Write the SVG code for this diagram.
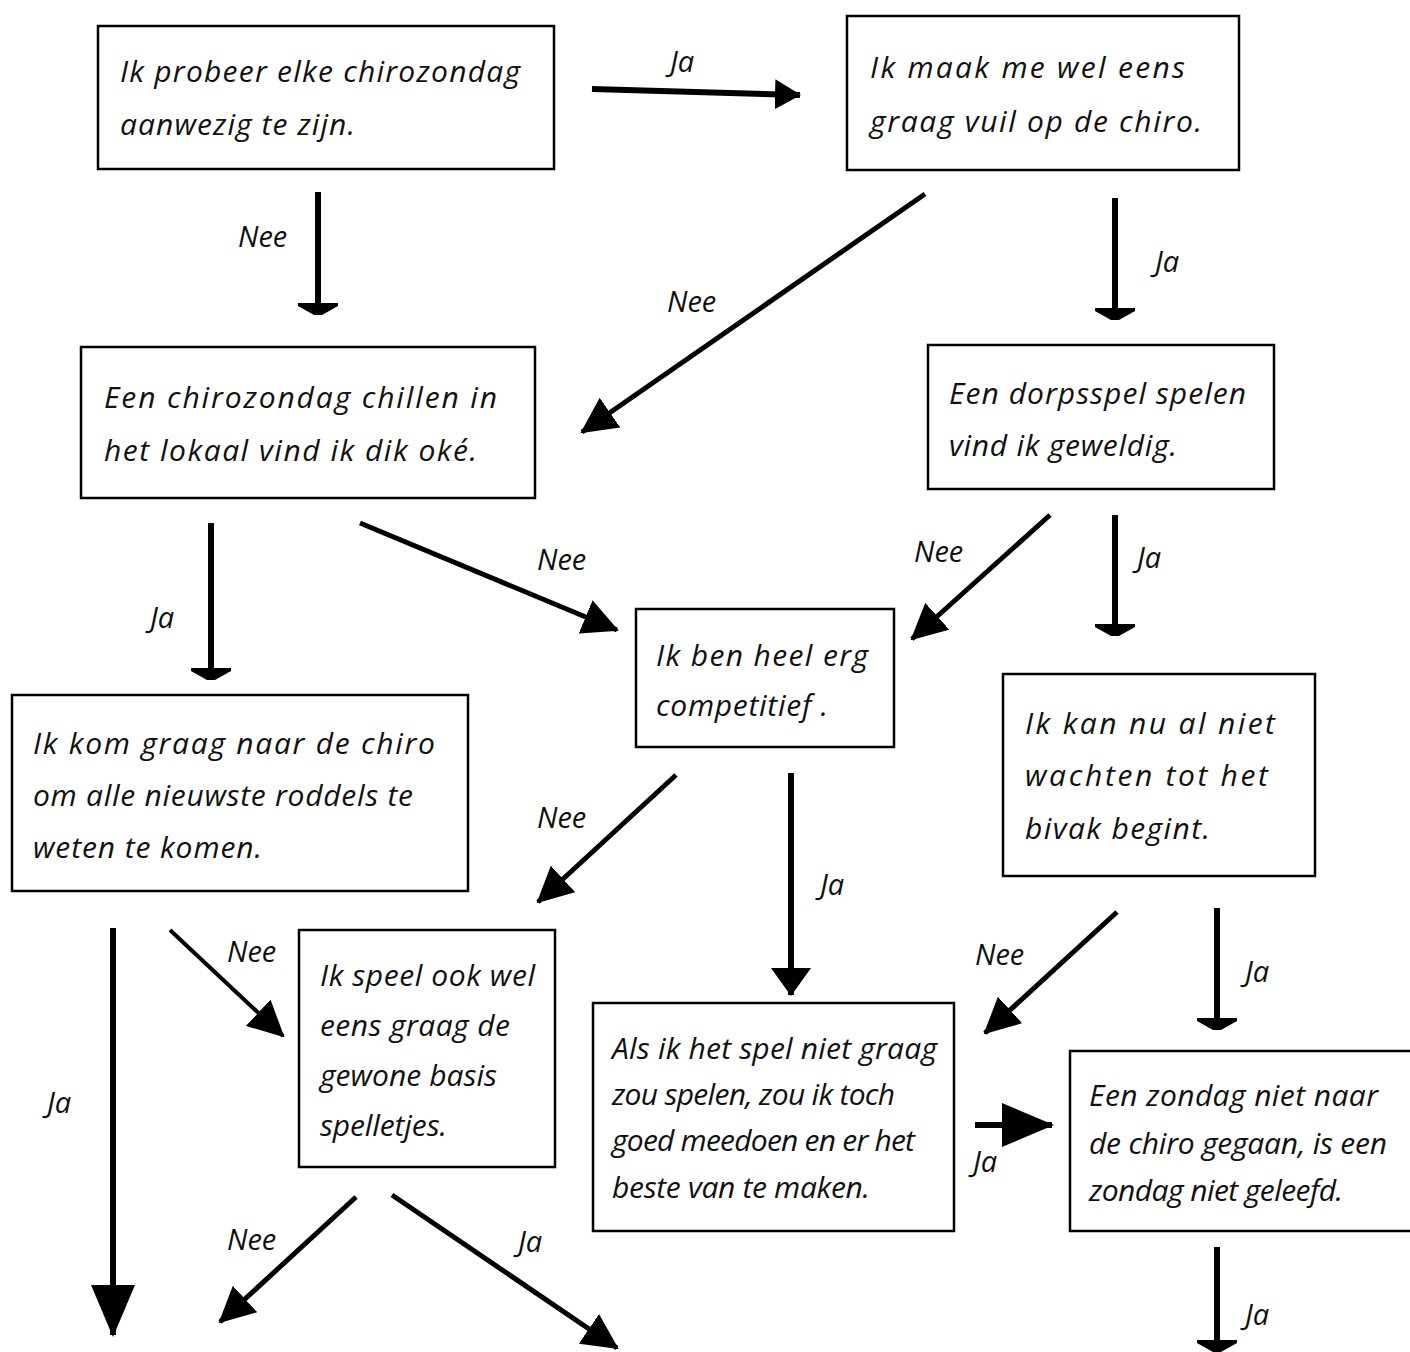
<svg xmlns="http://www.w3.org/2000/svg" width="1410" height="1352" viewBox="0 0 1410 1352">
<style>
.box{fill:#fff;stroke:#000;stroke-width:2.5}
.t{font-family:"Open Sans","Noto Sans",sans-serif;font-style:italic;font-size:30px;fill:#111}
.lbl{font-family:"Open Sans","Noto Sans",sans-serif;font-style:italic;font-size:29px;fill:#111}
.c{stroke:#000;stroke-width:5;fill:none}
.v{stroke:#000;stroke-width:6;fill:none}
</style>
<defs>
<marker id="tri" viewBox="0 0 36 36" refX="34" refY="18" markerWidth="36" markerHeight="36" markerUnits="userSpaceOnUse" orient="auto"><path d="M0,0 L36,18 L0,36 z" fill="#000"/></marker>
<marker id="big" viewBox="0 0 52 44" refX="50" refY="22" markerWidth="52" markerHeight="44" markerUnits="userSpaceOnUse" orient="auto"><path d="M0,0 L52,22 L0,44 z" fill="#000"/></marker>
<marker id="mid" viewBox="0 0 28 40" refX="27" refY="20" markerWidth="28" markerHeight="40" markerUnits="userSpaceOnUse" orient="auto"><path d="M0,0 L28,20 L0,40 z" fill="#000"/></marker>
<marker id="small" viewBox="0 0 26 30" refX="25" refY="15" markerWidth="26" markerHeight="30" markerUnits="userSpaceOnUse" orient="auto"><path d="M0,0 L26,15 L0,30 z" fill="#000"/></marker>
<marker id="flat" viewBox="0 0 12 40" refX="12" refY="20" markerWidth="12" markerHeight="40" markerUnits="userSpaceOnUse" orient="auto"><path d="M0,0 L3,0 L12,16 L12,24 L3,40 L0,40 z" fill="#000"/></marker>
</defs>
<g id="connectors">
<line class="c" x1="592" y1="89" x2="800" y2="95" style="stroke-width:6" marker-end="url(#small)"/>
<line class="v" x1="318" y1="192" x2="318" y2="315" marker-end="url(#flat)"/>
<line class="c" x1="925" y1="194" x2="582" y2="432" marker-end="url(#tri)"/>
<line class="v" x1="1115" y1="198" x2="1115" y2="320" marker-end="url(#flat)"/>
<line class="v" x1="211" y1="523" x2="211" y2="680" marker-end="url(#flat)"/>
<line class="c" x1="360" y1="523" x2="617" y2="630" marker-end="url(#tri)"/>
<line class="c" x1="1050" y1="515" x2="912" y2="639" marker-end="url(#tri)"/>
<line class="v" x1="1115" y1="515" x2="1115" y2="636" marker-end="url(#flat)"/>
<line class="c" x1="676" y1="775" x2="538" y2="902" marker-end="url(#tri)"/>
<line class="v" x1="791" y1="773" x2="791" y2="995" marker-end="url(#mid)"/>
<line class="v" x1="113" y1="928" x2="113" y2="1335" marker-end="url(#big)"/>
<line class="c" x1="170" y1="930" x2="283" y2="1036" style="stroke-width:4" marker-end="url(#tri)"/>
<line class="c" x1="1117" y1="912" x2="985" y2="1033" marker-end="url(#tri)"/>
<line class="v" x1="1217" y1="908" x2="1217" y2="1030" marker-end="url(#flat)"/>
<line class="v" x1="975" y1="1125" x2="1052" y2="1125" marker-end="url(#big)"/>
<line class="c" x1="356" y1="1197" x2="220" y2="1322" marker-end="url(#tri)"/>
<line class="c" x1="392" y1="1195" x2="617" y2="1348" marker-end="url(#tri)"/>
<line class="v" x1="1217" y1="1247" x2="1217" y2="1352" marker-end="url(#flat)"/>
<text class="lbl" x="670" y="72">Ja</text>
<text class="lbl" x="238" y="247">Nee</text>
<text class="lbl" x="667" y="312">Nee</text>
<text class="lbl" x="1155" y="272">Ja</text>
<text class="lbl" x="150" y="628">Ja</text>
<text class="lbl" x="537" y="570">Nee</text>
<text class="lbl" x="914" y="562">Nee</text>
<text class="lbl" x="1137" y="568">Ja</text>
<text class="lbl" x="537" y="828">Nee</text>
<text class="lbl" x="820" y="895">Ja</text>
<text class="lbl" x="47" y="1113">Ja</text>
<text class="lbl" x="227" y="962">Nee</text>
<text class="lbl" x="975" y="965">Nee</text>
<text class="lbl" x="1245" y="982">Ja</text>
<text class="lbl" x="973" y="1172">Ja</text>
<text class="lbl" x="227" y="1250">Nee</text>
<text class="lbl" x="518" y="1252">Ja</text>
<text class="lbl" x="1245" y="1325">Ja</text>
</g>
<g id="n1"><rect class="box" x="98" y="26" width="456" height="143"/>
<text class="t" x="120" y="82" textLength="400">Ik probeer elke chirozondag</text><text class="t" x="120" y="135" textLength="235">aanwezig te zijn.</text></g>
<g id="n2"><rect class="box" x="847" y="16" width="392" height="154"/>
<text class="t" x="870" y="78" textLength="315">Ik maak me wel eens</text><text class="t" x="870" y="132" textLength="332">graag vuil op de chiro.</text></g>
<g id="n3"><rect class="box" x="81" y="347" width="454" height="151"/>
<text class="t" x="104" y="408" textLength="393">Een chirozondag chillen in</text><text class="t" x="104" y="461" textLength="373">het lokaal vind ik dik oké.</text></g>
<g id="n4"><rect class="box" x="928" y="345" width="346" height="144"/>
<text class="t" x="949" y="404" textLength="297">Een dorpsspel spelen</text><text class="t" x="949" y="456" textLength="228">vind ik geweldig.</text></g>
<g id="n5"><rect class="box" x="636" y="609" width="258" height="138"/>
<text class="t" x="656" y="666" textLength="212">Ik ben heel erg</text><text class="t" x="656" y="716" textLength="172">competitief .</text></g>
<g id="n6"><rect class="box" x="12" y="695" width="456" height="196"/>
<text class="t" x="33" y="754" textLength="402">Ik kom graag naar de chiro</text><text class="t" x="33" y="806" textLength="380">om alle nieuwste roddels te</text><text class="t" x="33" y="858" textLength="229">weten te komen.</text></g>
<g id="n7"><rect class="box" x="1003" y="674" width="312" height="202"/>
<text class="t" x="1025" y="734" textLength="250">Ik kan nu al niet</text><text class="t" x="1025" y="786" textLength="243">wachten tot het</text><text class="t" x="1025" y="839" textLength="185">bivak begint.</text></g>
<g id="n8"><rect class="box" x="299" y="930" width="256" height="237"/>
<text class="t" x="320" y="986" textLength="215">Ik speel ook wel</text><text class="t" x="320" y="1036" textLength="190">eens graag de</text><text class="t" x="320" y="1086" textLength="177">gewone basis</text><text class="t" x="320" y="1136" textLength="127">spelletjes.</text></g>
<g id="n9"><rect class="box" x="593" y="1003" width="361" height="228"/>
<text class="t" x="612" y="1059" textLength="325">Als ik het spel niet graag</text><text class="t" x="612" y="1105" textLength="283">zou spelen, zou ik toch</text><text class="t" x="612" y="1151" textLength="303">goed meedoen en er het</text><text class="t" x="612" y="1198" textLength="258">beste van te maken.</text></g>
<g id="n10"><rect class="box" x="1070" y="1051" width="345" height="180"/>
<text class="t" x="1089" y="1106" textLength="289">Een zondag niet naar</text><text class="t" x="1089" y="1154" textLength="298">de chiro gegaan, is een</text><text class="t" x="1089" y="1201" textLength="254">zondag niet geleefd.</text></g>
</svg>
